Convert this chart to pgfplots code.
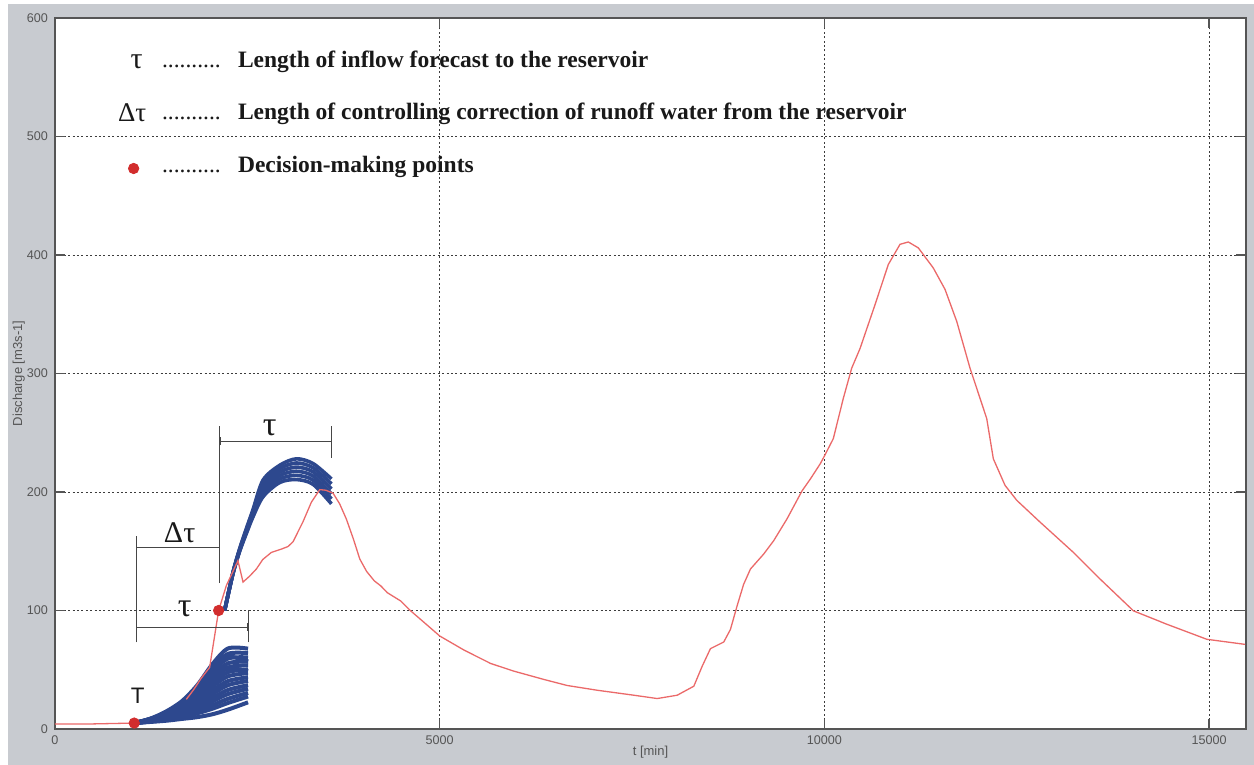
\documentclass[border=0pt]{standalone}
\usepackage{pgfplots}
\pgfplotsset{compat=1.18}
\usepackage{fontspec}
\setmainfont{Liberation Serif}
\newfontfamily\arial{Liberation Sans}
\usetikzlibrary{arrows.meta}
\definecolor{figgray}{RGB}{200,203,208}
\definecolor{axgray}{RGB}{85,85,85}
\definecolor{gridgray}{RGB}{60,60,60}
\definecolor{ensblue}{RGB}{45,72,142}
\definecolor{flowred}{RGB}{235,105,105}
\definecolor{dotred}{RGB}{210,45,45}
\definecolor{brk}{RGB}{70,70,70}
\definecolor{txt}{RGB}{25,25,25}

\begin{document}
\begin{tikzpicture}
\useasboundingbox (-27.5pt,-18pt) rectangle (599.5pt,364.5pt);
\fill[white] (-27.5pt,-18pt) rectangle (599.5pt,364.5pt);
\fill[figgray] (-23.5pt,-18pt) rectangle (599.5pt,362.5pt);
\begin{axis}[
  at={(0,0)}, anchor=south west,
  scale only axis, width=595.5pt, height=355.5pt,
  xmin=0, xmax=15480, ymin=0, ymax=600,
  axis background/.style={fill=white},
  xtick={0,5000,10000,15000}, ytick={0,100,200,300,400,500,600},
  scaled x ticks=false, scaled y ticks=false,
  /pgf/number format/set thousands separator={},
  /pgf/number format/assume math mode=true,
  ticklabel style={font=\arial\fontsize{6.3}{7}\selectfont, text=axgray},
  grid=major,
  major grid style={gridgray, line width=0.45pt, dash pattern=on 1pt off 1.2pt},
  axis line style={axgray, line width=0.7pt},
  tick style={axgray, line width=0.6pt},
  tick align=inside, tick pos=both, major tick length=5pt,
  xlabel={t [min]}, ylabel={Discharge [m3s-1]},
  label style={font=\arial\fontsize{6.5}{7}\selectfont, text=axgray},
  xlabel style={at={(axis description cs:0.5,-0.0323)}, anchor=center},
  ylabel style={at={(axis description cs:-0.0305,0.5)}, anchor=center},
  clip=false,
]
% ---- observed discharge, part hidden under the first forecast ensemble
\addplot[flowred, line width=0.65pt] coordinates {(0,4.2) (500,4.3) (1030,5) (1250,7) (1450,12) (1707,25)};
% ---- ensemble 1 (forecast from T)
\addplot[ensblue, line width=2pt, smooth] coordinates {(1030,5) (1250,9) (1450,15) (1650,23.5) (1850,37) (2050,55) (2250,68) (2509,67.8)};
\addplot[ensblue, line width=2pt, smooth] coordinates {(1030,5) (1250,8.8) (1450,14.4) (1650,22.4) (1850,35.1) (2050,52) (2250,63.5) (2509,64)};
\addplot[ensblue, line width=2pt, smooth] coordinates {(1030,5) (1250,8.7) (1450,14.2) (1650,22.7) (1850,35.4) (2050,52.1) (2250,61) (2509,57)};
\addplot[ensblue, line width=2pt, smooth] coordinates {(1030,5) (1250,8.6) (1450,13.8) (1650,21.3) (1850,33) (2050,48.6) (2250,59.5) (2509,60.4)};
\addplot[ensblue, line width=2pt, smooth] coordinates {(1030,5) (1250,8.3) (1450,13.2) (1650,20.1) (1850,30.9) (2050,45.3) (2250,55.5) (2509,56.9)};
\addplot[ensblue, line width=2pt, smooth] coordinates {(1030,5) (1250,8.2) (1450,12.6) (1650,19) (1850,29.1) (2050,42.3) (2250,52) (2509,53.8)};
\addplot[ensblue, line width=2pt, smooth] coordinates {(1030,5) (1250,8) (1450,12.4) (1650,18.9) (1850,29.1) (2050,42.8) (2250,51) (2509,49)};
\addplot[ensblue, line width=2pt, smooth] coordinates {(1030,5) (1250,7.9) (1450,12) (1650,17.8) (1850,26.9) (2050,39) (2250,48) (2509,50.3)};
\addplot[ensblue, line width=2pt, smooth] coordinates {(1030,5) (1250,7.6) (1450,11.4) (1650,16.7) (1850,25) (2050,36.1) (2250,44.5) (2509,47.2)};
\addplot[ensblue, line width=2pt, smooth] coordinates {(1030,5) (1250,7.4) (1450,10.8) (1650,15.6) (1850,22.9) (2050,32.7) (2250,40.5) (2509,43.7)};
\addplot[ensblue, line width=2pt, smooth] coordinates {(1030,5) (1250,7.2) (1450,10.2) (1650,14.5) (1850,21.1) (2050,29.7) (2250,37) (2509,40.6)};
\addplot[ensblue, line width=2pt, smooth] coordinates {(1030,5) (1250,6.9) (1450,9.6) (1650,13.3) (1850,19) (2050,26.4) (2250,33) (2509,37)};
\addplot[ensblue, line width=2pt, smooth] coordinates {(1030,5) (1250,6.8) (1450,9) (1650,12.3) (1850,17.1) (2050,23.5) (2250,29.5) (2509,34)};
\addplot[ensblue, line width=2pt, smooth] coordinates {(1030,5) (1250,6.5) (1450,8.4) (1650,11) (1850,15) (2050,20.2) (2250,25.5) (2509,30.5)};
\addplot[ensblue, line width=2pt, smooth] coordinates {(1030,5) (1250,6.3) (1450,7.8) (1650,10) (1850,13.2) (2050,17.2) (2250,22) (2509,27.4)};
\addplot[ensblue, line width=2pt, smooth] coordinates {(1030,5) (1250,6) (1450,7) (1650,8.5) (1850,10) (2050,12.5) (2250,16.4) (2509,22.5)};
% ---- ensemble 2 (forecast from T + dtau)
\addplot[ensblue, line width=1.8pt, smooth] coordinates {(2205,100) (2313,132) (2400,152) (2487,169) (2573,185) (2704,210) (2920,222.5) (3137,228) (3354,224) (3593,211)};
\addplot[ensblue, line width=1.8pt, smooth] coordinates {(2205,100) (2313,131.8) (2400,151.6) (2487,168.2) (2573,183.8) (2704,207.2) (2920,219.6) (3137,224.5) (3354,220.5) (3593,206.8)};
\addplot[ensblue, line width=1.8pt, smooth] coordinates {(2205,100) (2313,131.6) (2400,151.2) (2487,167.4) (2573,182.6) (2704,204.4) (2920,216.7) (3137,221) (3354,217) (3593,202.6)};
\addplot[ensblue, line width=1.8pt, smooth] coordinates {(2205,100) (2313,131.4) (2400,150.8) (2487,166.6) (2573,181.4) (2704,201.6) (2920,213.8) (3137,217.5) (3354,213.5) (3593,198.4)};
\addplot[ensblue, line width=1.8pt, smooth] coordinates {(2205,100) (2313,131.2) (2400,150.4) (2487,165.8) (2573,180.2) (2704,198.8) (2920,210.9) (3137,214) (3354,210) (3593,194.2)};
\addplot[ensblue, line width=1.8pt, smooth] coordinates {(2205,100) (2313,131) (2400,150) (2487,165) (2573,179) (2704,196) (2920,208) (3137,210.5) (3354,206.5) (3593,190)};
% ---- observed discharge, remaining part
\addplot[flowred, line width=0.65pt] coordinates {
(1707,25) (1800,33) (1902,43) (2010,52) (2127,100)
(2227,121) (2378,142) (2444,124) (2530,129) (2617,135) (2700,143) (2812,149) (2950,152) (3029,154) (3094,158)
(3224,175) (3333,191.5) (3441,202) (3520,201.5) (3614,199) (3700,190) (3788,177) (3880,160) (3961,143.5)
(4050,133) (4150,125) (4234,120.8) (4320,115) (4494,108) (4623,99.7) (4796,90) (5000,78.5) (5316,66.6)
(5662,55.3) (5965,48.8) (6355,41.8) (6658,36.7) (7048,32.7) (7524,28.5) (7827,25.7) (8087,28.5) (8303,36.1)
(8412,53) (8519,67.8) (8692,73.4) (8779,84) (8866,104) (8950,122) (9039,135) (9212,147.7) (9342,159)
(9515,177.4) (9710,201) (9818,211) (9948,224) (9995,229.7) (10116,245) (10246,279) (10355,304.5) (10463,321)
(10658,358) (10831,392) (10983,409) (11091,411) (11221,406) (11416,389) (11568,371) (11720,344) (11893,304.5)
(12110,262) (12153,245) (12196,228) (12348,205.6) (12500,193) (12803,174.6) (13237,149) (13584,126.5)
(14017,99.7) (14451,88.4) (14971,75.7) (15469,71.4)};
% ---- decision-making points (and legend symbol)
\addplot[only marks, mark=*, mark size=2.6pt, dotred, mark options={draw=dotred, fill=dotred}] coordinates {(1030,5) (2127,100) (1022,473)};
% ---- brackets
\draw[brk, line width=0.5pt] (1057,73) -- (1057,163);
\draw[brk, line width=0.5pt] (2509,73) -- (2509,100);
\draw[brk, line width=0.5pt] (2140,123) -- (2140,256);
\draw[brk, line width=0.5pt] (3600,229) -- (3600,256);
\draw[brk, line width=0.5pt, {Bar[width=4pt]}-{Bar[width=4pt]}] (1057,86) -- (2509,86);
\draw[brk, line width=0.5pt, {Bar[width=4pt]}-{Bar[width=4pt]}] (1057,153.4) -- (2140,153.4);
\draw[brk, line width=0.5pt, {Bar[width=4pt]}-{Bar[width=4pt]}] (2140,243) -- (3600,243);
\node[txt, font=\fontsize{17}{17}\selectfont] at (1685,101) {τ};
\node[txt, font=\fontsize{15}{15}\selectfont] at (1620,166) {Δτ};
\node[txt, font=\fontsize{17}{17}\selectfont] at (2790,254) {τ};
\node[txt, font=\arial\fontsize{11.2}{12}\selectfont] at (1075,27.6) {T};
% ---- explanatory legend
\node[txt, anchor=base, inner sep=0, font=\fontsize{15}{15}\selectfont] at (1061,557) {τ};
\node[txt, anchor=base east, inner sep=0, font=\fontsize{13.5}{14}\selectfont] at (1191,512.5) {Δτ};
\node[txt, anchor=base west, inner sep=0, font=\fontsize{11.75}{12}\selectfont] at (1386,558) {..........};
\node[txt, anchor=base west, inner sep=0, font=\fontsize{11.75}{12}\selectfont] at (1386,514.3) {..........};
\node[txt, anchor=base west, inner sep=0, font=\fontsize{11.75}{12}\selectfont] at (1386,469.6) {..........};
\node[txt, anchor=base west, inner sep=0, font=\bfseries\fontsize{11.75}{12}\selectfont] at (2374,558) {Length of inflow forecast to the reservoir};
\node[txt, anchor=base west, inner sep=0, font=\bfseries\fontsize{11.75}{12}\selectfont] at (2374,514.3) {Length of controlling correction of runoff water from the reservoir};
\node[txt, anchor=base west, inner sep=0, font=\bfseries\fontsize{11.75}{12}\selectfont] at (2374,469.6) {Decision-making points};
\end{axis}
\end{tikzpicture}
\end{document}
